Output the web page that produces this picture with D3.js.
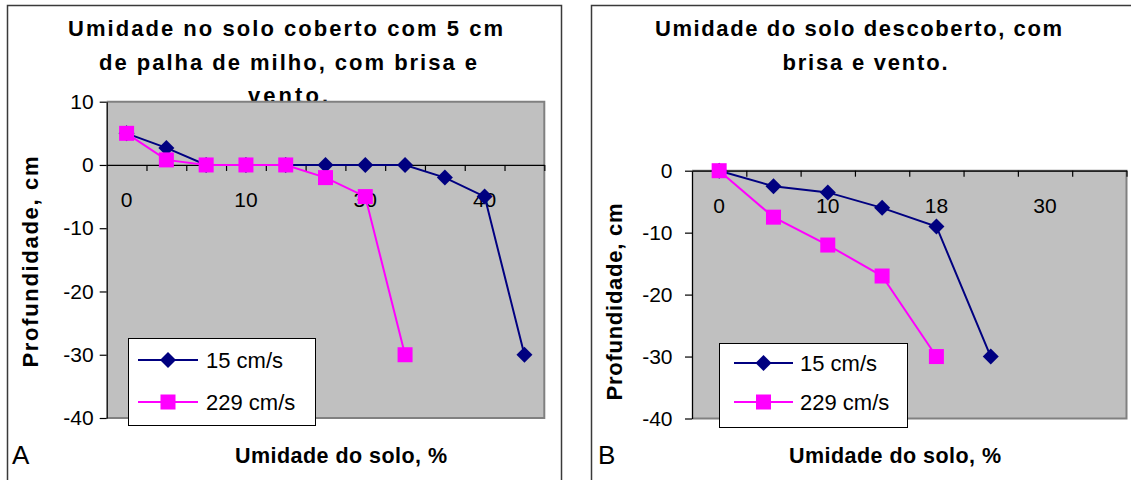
<!DOCTYPE html>
<html>
<head>
<meta charset="utf-8">
<script src="https://cdn.jsdelivr.net/npm/d3@7/dist/d3.min.js"></script>
<style>
  html, body { margin: 0; padding: 0; background: #fff; }
  svg { display: block; font-family: "Liberation Sans", Arial, sans-serif; }
</style>
</head>
<body>
<svg id="chart" width="1131" height="480"></svg>
<script>
// ---------- data ----------
const seriesNames = ["15 cm/s", "229 cm/s"];

// Panel A
const titleA = ["Umidade no solo coberto com 5 cm", "de palha de milho, com brisa e", "vento."];
const catsA = ["0", "", "", "10", "", "", "30", "", "", "40", ""];
const a15 = [5, 2.7, 0, 0, 0, 0, 0, 0, -2, -5, -30];
const a229 = [5, 0.8, 0, 0, 0, -2, -5, -30];
const yTicksA = [10, 0, -10, -20, -30, -40];

// Panel B
const titleB = ["Umidade do solo descoberto, com", "brisa e vento."];
const catsB = ["0", "", "10", "", "18", "", "30", ""];
const b15 = [0, -2.5, -3.5, -6, -9, -30];
const b229 = [0, -7.5, -12, -17, -30];
const yTicksB = [0, -10, -20, -30, -40];

const yTitle = "Profundidade, cm";
const xTitle = "Umidade do solo, %";

// ---------- styles ----------
const NAVY = "#000080", MAGENTA = "#FF00FF", PLOTBG = "#C0C0C0", BORDER = "#808080";
const FONT = "Liberation Sans, Arial, sans-serif";

const svg = d3.select("#chart");

function diamondPath(r) {
  return `M0,${-r}L${r},0L0,${r}L${-r},0Z`;
}

function drawPanel(cfg) {
  const g = svg.append("g");

  // panel frame
  g.append("rect")
    .attr("x", cfg.frame[0]).attr("y", cfg.frame[1])
    .attr("width", cfg.frame[2]).attr("height", cfg.frame[3])
    .attr("fill", "#fff").attr("stroke", "#3a3a3a").attr("stroke-width", 1.5);

  // title
  cfg.title.forEach((t, i) => {
    g.append("text")
      .attr("x", cfg.titleX[i]).attr("y", cfg.titleY[i])
      .attr("text-anchor", "middle")
      .attr("font-size", 22).attr("font-weight", "bold")
      .attr("textLength", cfg.titleW[i]).attr("lengthAdjust", "spacing")
      .text(t);
  });

  const [x0, x1] = cfg.xr;
  const [yb, yt] = cfg.yr;
  const x = d3.scaleBand().domain(d3.range(cfg.cats.length)).range([x0, x1]).paddingInner(0).paddingOuter(0);
  const xc = i => x(i) + x.bandwidth() / 2;
  const y = d3.scaleLinear().domain(cfg.yDomain).range([yb, yt]);
  const xb = d3.scaleLinear().domain([0, cfg.cats.length]).range([x0, x1]);

  // plot area
  g.append("rect")
    .attr("x", x0).attr("y", yt).attr("width", x1 - x0).attr("height", yb - yt)
    .attr("fill", PLOTBG);
  g.append("path")
    .attr("d", `M${x0},${yt}H${x1}V${yb}H${x0}`)
    .attr("fill", "none").attr("stroke", BORDER).attr("stroke-width", 2);

  // y axis
  const yAxis = g.append("g").attr("transform", `translate(${x0},0)`)
    .call(d3.axisLeft(y).tickValues(cfg.yTicks).tickSize(7).tickPadding(cfg.yPad).tickSizeOuter(0)
      .tickFormat(d => String(d)));
  yAxis.select(".domain").attr("stroke", "#000").attr("stroke-width", 1.3);
  yAxis.selectAll(".tick line").attr("stroke", "#000").attr("stroke-width", 1.2);
  yAxis.selectAll(".tick text").attr("font-size", 21).attr("fill", "#000").attr("font-family", FONT);

  // x axis (crossing at y = 0), ticks at category boundaries
  const y0 = y(0);
  const xAxis = g.append("g").attr("transform", `translate(0,${y0})`)
    .call(d3.axisBottom(xb).tickValues(d3.range(1, cfg.cats.length + 1)).tickSize(6).tickSizeOuter(0).tickFormat(""));
  xAxis.select(".domain").attr("stroke", "#000").attr("stroke-width", 1.3);
  xAxis.selectAll(".tick line").attr("stroke", "#000").attr("stroke-width", 1.2);

  // category labels
  g.append("g").selectAll("text")
    .data(cfg.cats.map((c, i) => ({ c, i })).filter(d => d.c !== ""))
    .join("text")
    .attr("x", d => xc(d.i)).attr("y", y0 + cfg.labelOff)
    .attr("text-anchor", "middle").attr("font-size", 21)
    .text(d => d.c);

  // series
  const line = d3.line().x((d, i) => xc(i)).y(d => y(d));
  function drawSeries(vals, color, kind) {
    g.append("path").datum(vals).attr("d", line)
      .attr("fill", "none").attr("stroke", color).attr("stroke-width", 2);
    const m = g.append("g");
    vals.forEach((v, i) => {
      if (kind === "diamond") {
        m.append("path").attr("d", diamondPath(8))
          .attr("transform", `translate(${xc(i)},${y(v)})`).attr("fill", color);
      } else {
        m.append("rect").attr("x", xc(i) - 7.5).attr("y", y(v) - 7.5)
          .attr("width", 15).attr("height", 15).attr("fill", color);
      }
    });
  }
  drawSeries(cfg.s1, NAVY, "diamond");
  drawSeries(cfg.s2, MAGENTA, "square");

  // axis titles
  g.append("text")
    .attr("transform", `translate(${cfg.yTitlePos[0]},${cfg.yTitlePos[1]}) rotate(-90)`)
    .attr("text-anchor", "middle").attr("font-size", 22).attr("font-weight", "bold")
    .attr("textLength", cfg.yTitleW).attr("lengthAdjust", "spacing")
    .text(yTitle);
  g.append("text")
    .attr("x", cfg.xTitlePos[0]).attr("y", cfg.xTitlePos[1])
    .attr("text-anchor", "middle").attr("font-size", 21.5).attr("font-weight", "bold")
    .attr("textLength", 212).attr("lengthAdjust", "spacing")
    .text(xTitle);

  // panel letter
  g.append("text").attr("x", cfg.letterPos[0]).attr("y", cfg.letterPos[1])
    .attr("font-size", 26).text(cfg.letter);

  // legend
  const L = cfg.legend;
  const lg = g.append("g");
  lg.append("rect").attr("x", L.x + 0.5).attr("y", L.y + 0.5).attr("width", L.w).attr("height", L.h)
    .attr("fill", "#fff").attr("stroke", "#000").attr("stroke-width", 1);
  const kinds = ["diamond", "square"], colors = [NAVY, MAGENTA];
  seriesNames.forEach((name, i) => {
    const ey = L.rows[i];
    lg.append("line").attr("x1", L.l0).attr("x2", L.l1).attr("y1", ey).attr("y2", ey)
      .attr("stroke", colors[i]).attr("stroke-width", 2);
    const mx = (L.l0 + L.l1) / 2;
    if (kinds[i] === "diamond") {
      lg.append("path").attr("d", diamondPath(8)).attr("transform", `translate(${mx},${ey})`).attr("fill", colors[i]);
    } else {
      lg.append("rect").attr("x", mx - 7.5).attr("y", ey - 7.5).attr("width", 15).attr("height", 15).attr("fill", colors[i]);
    }
    lg.append("text").attr("x", L.tx).attr("y", ey + 7.8).attr("font-size", 22).text(name);
  });
}

drawPanel({
  frame: [7.5, 5.5, 554, 500],
  title: titleA, titleX: [285.5, 288, 288], titleY: [36, 70, 102.5], titleW: [435, 378, 80],
  cats: catsA, s1: a15, s2: a229, yTicks: yTicksA, yDomain: [-40, 10],
  xr: [106.7, 544.3], yr: [418, 101.7], yPad: 6, labelOff: 42.5,
  yTitlePos: [38, 262], yTitleW: 211,
  xTitlePos: [341, 463], letter: "A", letterPos: [12, 464],
  legend: { x: 128, y: 338, w: 187, h: 87, rows: [360, 402], l0: 138, l1: 198, tx: 206 }
});

drawPanel({
  frame: [591.5, 5.5, 600, 500],
  title: titleB, titleX: [858.5, 865], titleY: [36, 70], titleW: [407, 165],
  cats: catsB, s1: b15, s2: b229, yTicks: yTicksB, yDomain: [-40, 0],
  xr: [692, 1126.5], yr: [418.5, 170.7], yPad: 12.5, labelOff: 42,
  yTitlePos: [622, 302], yTitleW: 197,
  xTitlePos: [895, 463], letter: "B", letterPos: [598, 464],
  legend: { x: 719, y: 343, w: 188, h: 84, rows: [363, 402], l0: 734, l1: 793, tx: 800 }
});
</script>
</body>
</html>
